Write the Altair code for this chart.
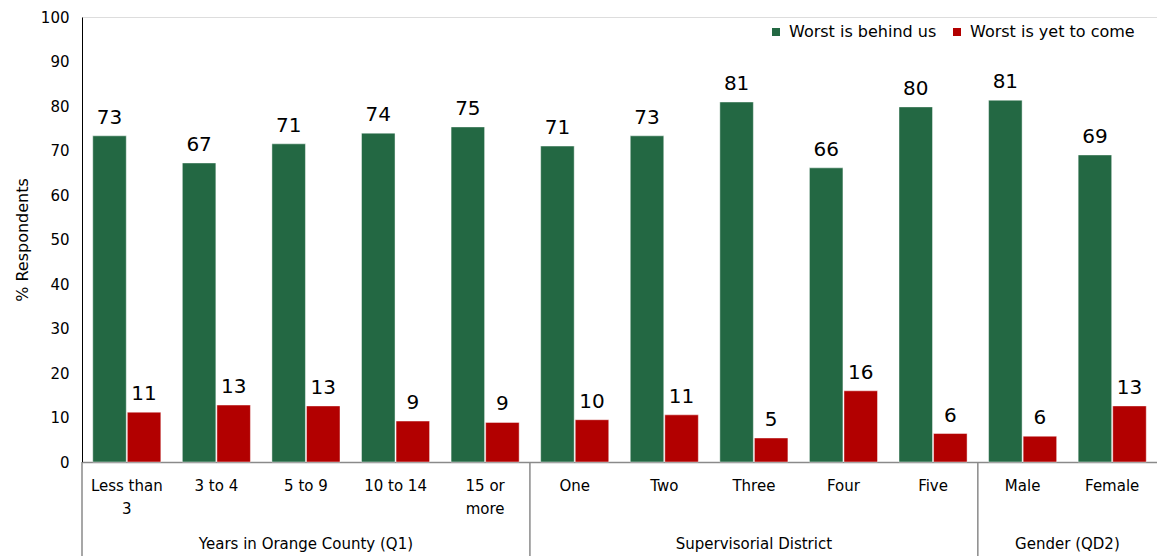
import altair as alt
import pandas as pd

categories = ["Less than\n3", "3 to 4", "5 to 9", "10 to 14", "15 or\nmore",
              "One", "Two", "Three", "Four", "Five", "Male", "Female"]
series = ["Worst is behind us", "Worst is yet to come"]
behind = [73.3, 67.2, 71.5, 73.9, 75.3, 71.0, 73.3, 80.9, 66.1, 79.8, 81.3, 69.0]
behind_labels = [73, 67, 71, 74, 75, 71, 73, 81, 66, 80, 81, 69]
yet = [11.2, 12.8, 12.6, 9.2, 8.9, 9.5, 10.6, 5.4, 16.0, 6.4, 5.8, 12.6]
yet_labels = [11, 13, 13, 9, 9, 10, 11, 5, 16, 6, 6, 13]
groups = ["Years in Orange County (Q1)", "Supervisorial District", "Gender (QD2)"]
group_sizes = [5, 5, 2]
colors = ["#236843", "#B20000"]

W, H = 1075, 445
FONT = "DejaVu Sans"
PI, PO = 0.24, 0.12

rows = []
for c, v, l in zip(categories, behind, behind_labels):
    rows.append({"category": c, "series": series[0], "value": v, "label": str(l)})
for c, v, l in zip(categories, yet, yet_labels):
    rows.append({"category": c, "series": series[1], "value": v, "label": str(l)})
df = pd.DataFrame(rows)

n = len(categories)
starts = [0]
for s in group_sizes:
    starts.append(starts[-1] + s)
step = W / (n - PI + 2 * PO)
half_gap = step * PI / 2

xscale = alt.Scale(paddingInner=PI, paddingOuter=PO)
xaxis = alt.Axis(orient="bottom", labelExpr="split(datum.label, '\\n')", labelAngle=0,
                 ticks=False, domainColor="#8a8a8a", domainWidth=1.5,
                 labelFontSize=15, labelPadding=16, labelLineHeight=23,
                 labelColor="black", labelBaseline="top")

base = alt.Chart(df).encode(
    x=alt.X("category:N", sort=categories, title=None, scale=xscale, axis=xaxis),
    xOffset=alt.XOffset("series:N", sort=series, scale=alt.Scale(paddingInner=0.03)),
    y=alt.Y("value:Q", scale=alt.Scale(domain=[0, 100], nice=False),
            axis=alt.Axis(values=list(range(0, 101, 10)), ticks=False, grid=False,
                          domainColor="black", labelFontSize=15, labelPadding=13,
                          labelColor="black", title="% Respondents",
                          titleFontSize=16, titleFontWeight="normal",
                          titleColor="black", titlePadding=10)),
)

bars = base.mark_bar(stroke="#ffffff", strokeOpacity=0.45, strokeWidth=1).encode(
    color=alt.Color("series:N", sort=series,
                    scale=alt.Scale(domain=series, range=colors),
                    legend=alt.Legend(title=None, orient="none", legendX=686, legendY=7,
                                      direction="horizontal", symbolType="square",
                                      symbolSize=64, symbolStrokeWidth=0,
                                      labelFontSize=16, labelColor="black",
                                      labelLimit=400,
                                      columnPadding=12, labelOffset=5)),
)

labels = base.mark_text(baseline="alphabetic", dy=-12, fontSize=20, color="black").encode(
    text="label:N",
)

sep_df = pd.DataFrame({"category": [categories[s] for s in starts[:-1]]})
seps = alt.Chart(sep_df).mark_rule(color="#8a8a8a", strokeWidth=1.5, xOffset=-half_gap).encode(
    x=alt.X("category:N", sort=categories, title=None, scale=xscale, axis=xaxis, bandPosition=0),
    y=alt.value(H),
    y2=alt.value(H + 94),
)

glayers = []
for i, g in enumerate(groups):
    size = group_sizes[i]
    mid_idx = starts[i] + size // 2
    if size % 2:
        bp, dx = 0.5, 0
    else:
        bp, dx = 0, -half_gap
    gdf = pd.DataFrame({"category": [categories[mid_idx]], "group": [g]})
    glayers.append(
        alt.Chart(gdf).mark_text(fontSize=15, baseline="middle", color="black", dx=dx).encode(
            x=alt.X("category:N", sort=categories, title=None, scale=xscale, axis=xaxis,
                    bandPosition=bp),
            y=alt.value(527),
            text="group:N",
        )
    )

chart = alt.layer(bars, labels, seps, *glayers).properties(
    width=W, height=H,
    autosize=alt.AutoSizeParams(type="none"),
    padding={"left": 82, "top": 17, "right": 0, "bottom": 94},
).configure_view(stroke="transparent", strokeWidth=0).configure(font=FONT)

chart.save("out.html", embed_options={"renderer": "svg", "actions": False})
